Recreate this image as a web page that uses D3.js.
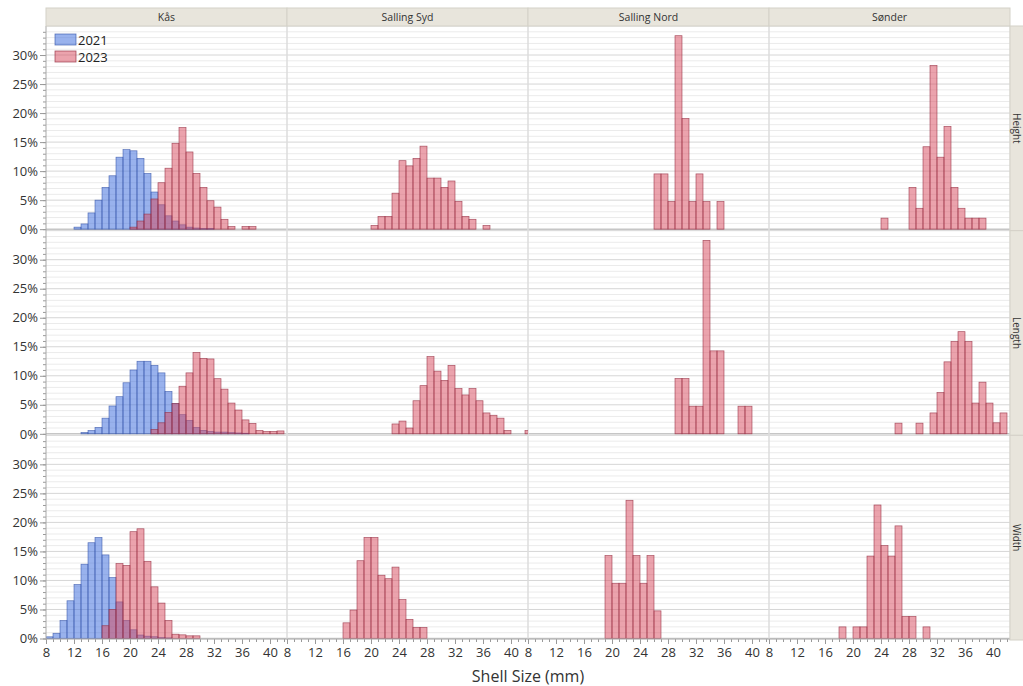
<!DOCTYPE html>
<html><head><meta charset="utf-8">
<script src="https://cdn.jsdelivr.net/npm/d3@7"></script>
<style>
body{margin:0;background:#fff;}
svg{display:block;font-family:"Open Sans","Noto Sans",sans-serif;}
</style>
</head><body>
<svg id="chart" width="1023" height="686"></svg>
<script>
// ---------------- data ----------------
const sites = ["Kås", "Salling Syd", "Salling Nord", "Sønder"];
const measures = ["Height", "Length", "Width"];
const years = ["2021", "2023"];
const xTickValues = [8, 12, 16, 20, 24, 28, 32, 36, 40];
const yTickValues = [0, 5, 10, 15, 20, 25, 30];
const xTitle = "Shell Size (mm)";

// each entry: [bin start (mm, 1-mm bins), percent of shells]
const kasHeight2021 = [[12,0.35],[13,0.9],[14,2.8],[15,5.0],[16,7.2],[17,9.2],[18,12.4],[19,13.7],[20,13.5],[21,12.2],[22,9.6],[23,6.4],[24,4.2],[25,2.3],[26,1.4],[27,0.75],[28,0.35],[29,0.2],[30,0.1],[31,0.1]];
const kasHeight2023 = [[20,0.35],[21,1.4],[22,2.6],[23,5.2],[24,8.0],[25,10.5],[26,14.8],[27,17.5],[28,13.3],[29,9.6],[30,7.2],[31,4.9],[32,3.8],[33,1.7],[34,0.45],[36,0.45],[37,0.45]];
const kasLength2021 = [[13,0.23],[14,0.57],[15,1.1],[16,2.7],[17,4.8],[18,6.4],[19,8.8],[20,11.0],[21,12.5],[22,12.5],[23,11.8],[24,10.5],[25,7.3],[26,5.2],[27,3.3],[28,2.3],[29,1.1],[30,0.6],[31,0.4],[32,0.3],[33,0.3],[34,0.2],[35,0.15],[36,0.1]];
const kasLength2023 = [[23,0.75],[24,1.9],[25,3.7],[26,5.2],[27,8.2],[28,10.5],[29,14.0],[30,13.0],[31,12.9],[32,9.5],[33,7.7],[34,5.3],[35,4.1],[36,2.4],[37,1.8],[38,0.57],[39,0.4],[40,0.4],[41,0.5]];
const kasWidth2021 = [[8,0.29],[9,0.9],[10,3.1],[11,6.5],[12,9.3],[13,12.8],[14,16.5],[15,17.4],[16,14.4],[17,10.5],[18,6.3],[19,3.1],[20,1.5],[21,0.6],[22,0.4],[23,0.3],[24,0.15],[25,0.1]];
const kasWidth2023 = [[16,2.2],[17,5.0],[18,12.9],[19,12.6],[20,18.4],[21,18.9],[22,13.3],[23,8.9],[24,6.1],[25,3.1],[26,0.74],[27,0.63],[28,0.46],[29,0.46]];
const sydHeight2023 = [[20,0.63],[21,2.2],[22,2.2],[23,6.2],[24,11.8],[25,10.9],[26,12.2],[27,14.3],[28,8.8],[29,8.8],[30,7.2],[31,8.3],[32,4.8],[33,2.2],[34,1.7],[36,0.63]];
const sydLength2023 = [[23,1.7],[24,2.2],[25,1.0],[26,5.7],[27,8.3],[28,13.3],[29,10.8],[30,9.2],[31,11.8],[32,7.8],[33,6.7],[34,7.8],[35,5.7],[36,3.6],[37,3.2],[38,2.7],[39,0.57],[42,0.57]];
const sydWidth2023 = [[16,2.7],[17,4.9],[18,13.4],[19,17.4],[20,17.4],[21,10.9],[22,10.3],[23,12.3],[24,6.7],[25,3.3],[26,1.9],[27,1.9]];
const nordHeight2023 = [[26,9.52],[27,9.52],[28,4.76],[29,33.33],[30,19.05],[31,4.76],[32,9.52],[33,4.76],[35,4.76]];
const nordLength2023 = [[29,9.52],[30,9.52],[31,4.76],[32,4.76],[33,33.33],[34,14.29],[35,14.29],[38,4.76],[39,4.76]];
const nordWidth2023 = [[19,14.29],[20,9.52],[21,9.52],[22,23.81],[23,14.29],[24,9.52],[25,14.29],[26,4.76]];
const sonderHeight2023 = [[24,1.9],[28,7.2],[29,3.6],[30,14.2],[31,28.2],[32,12.4],[33,17.7],[34,7.2],[35,3.6],[36,1.9],[37,1.9],[38,1.9]];
const sonderLength2023 = [[26,1.84],[29,1.84],[31,3.6],[32,7.1],[33,12.4],[34,15.9],[35,17.6],[36,15.9],[37,5.3],[38,8.9],[39,5.3],[40,1.9],[41,3.6]];
const sonderWidth2023 = [[18,2.0],[20,2.0],[21,2.0],[22,14.2],[23,23.0],[24,16.0],[25,14.2],[26,19.4],[27,3.8],[28,3.8],[30,2.0]];

const series = [
  {site:"Kås", measure:"Height", year:"2021", bins:kasHeight2021},
  {site:"Kås", measure:"Length", year:"2021", bins:kasLength2021},
  {site:"Kås", measure:"Width",  year:"2021", bins:kasWidth2021},
  {site:"Kås", measure:"Height", year:"2023", bins:kasHeight2023},
  {site:"Kås", measure:"Length", year:"2023", bins:kasLength2023},
  {site:"Kås", measure:"Width",  year:"2023", bins:kasWidth2023},
  {site:"Salling Syd", measure:"Height", year:"2023", bins:sydHeight2023},
  {site:"Salling Syd", measure:"Length", year:"2023", bins:sydLength2023},
  {site:"Salling Syd", measure:"Width",  year:"2023", bins:sydWidth2023},
  {site:"Salling Nord", measure:"Height", year:"2023", bins:nordHeight2023},
  {site:"Salling Nord", measure:"Length", year:"2023", bins:nordLength2023},
  {site:"Salling Nord", measure:"Width",  year:"2023", bins:nordWidth2023},
  {site:"Sønder", measure:"Height", year:"2023", bins:sonderHeight2023},
  {site:"Sønder", measure:"Length", year:"2023", bins:sonderLength2023},
  {site:"Sønder", measure:"Width",  year:"2023", bins:sonderWidth2023}
];

// ---------------- layout & style ----------------
const plotL = 46, plotR = 1010, plotT = 26, plotB = 640, stripT = 8, rightStripW = 13;
const panelW = (plotR - plotL) / sites.length;
const rowH = (plotB - plotT) / measures.length;
const pxPerMm = 7;
const xMax = 8 + panelW / pxPerMm;
const fills = {"2021":"rgba(70,115,222,0.55)", "2023":"rgba(215,72,92,0.5)"};
const strokes = {"2021":"rgba(50,80,165,0.75)", "2023":"rgba(150,48,68,0.8)"};
const textColor = "#333";
const stripFill = "#e8e5dc";

const svg = d3.select("#chart");
svg.append("rect").attr("width",1023).attr("height",686).attr("fill","#fff");

const colScale = d3.scaleBand().domain(sites).range([plotL, plotR]);
const rowScale = d3.scaleBand().domain(measures).range([plotT, plotB]);

function xScaleFor(site){
  const x0 = colScale(site);
  return d3.scaleLinear().domain([8, xMax]).range([x0, x0 + panelW]);
}
function yScaleFor(measure){
  const t = rowScale(measure);
  return d3.scaleLinear().domain([0, 35]).range([t + rowH - 1.5, t]);
}

// defs / clip paths
const defs = svg.append("defs");
sites.forEach((s,i)=>measures.forEach((m,j)=>{
  defs.append("clipPath").attr("id",`clip-${i}-${j}`)
    .append("rect").attr("x",colScale(s)).attr("y",rowScale(m))
    .attr("width",panelW).attr("height",rowH);
}));

// gridlines
const gGrid = svg.append("g");
measures.forEach(m=>{
  const ys = yScaleFor(m);
  const minor = d3.range(0, 36, 1).filter(v=>v%5!==0);
  gGrid.selectAll(null).data(minor).join("line")
    .attr("x1",plotL).attr("x2",plotR)
    .attr("y1",d=>ys(d)).attr("y2",d=>ys(d))
    .attr("stroke","#ebebeb").attr("stroke-width",1);
  gGrid.selectAll(null).data(yTickValues.concat([35])).join("line")
    .attr("x1",plotL).attr("x2",plotR)
    .attr("y1",d=>ys(d)).attr("y2",d=>ys(d))
    .attr("stroke",d=>d===0?"#c6c6c6":"#d6d6d6").attr("stroke-width",d=>d===0?1.5:1);
});
// panel separators
sites.slice(1).forEach(s=>{
  gGrid.append("line").attr("x1",colScale(s)).attr("x2",colScale(s))
    .attr("y1",plotT).attr("y2",plotB).attr("stroke","#dcdcdc").attr("stroke-width",1.5);
});
gGrid.append("line").attr("x1",plotR).attr("x2",plotR)
  .attr("y1",plotT).attr("y2",plotB).attr("stroke","#dcdcdc").attr("stroke-width",1);

// bars
const gBars = svg.append("g");
years.forEach(yr=>{
  series.filter(d=>d.year===yr).forEach(sr=>{
    const xs = xScaleFor(sr.site), ys = yScaleFor(sr.measure);
    const ci = sites.indexOf(sr.site), ri = measures.indexOf(sr.measure);
    gBars.append("g").attr("clip-path",`url(#clip-${ci}-${ri})`)
      .selectAll("rect").data(sr.bins).join("rect")
      .attr("x",d=>xs(d[0])).attr("width",d=>xs(d[0]+1)-xs(d[0]))
      .attr("y",d=>ys(d[1])).attr("height",d=>ys(0)-ys(d[1]))
      .attr("fill",fills[yr]).attr("stroke",strokes[yr]).attr("stroke-width",0.7);
  });
});

// y axes
measures.forEach(m=>{
  const ys = yScaleFor(m);
  const gMinor = svg.append("g").attr("transform",`translate(${plotL},0)`)
    .call(d3.axisLeft(ys).tickValues(d3.range(0,35,1)).tickSize(3).tickFormat(""));
  gMinor.select(".domain").remove();
  gMinor.selectAll("line").attr("stroke","#999");
  const g = svg.append("g").attr("transform",`translate(${plotL},0)`)
    .call(d3.axisLeft(ys).tickValues(yTickValues).tickSize(6).tickPadding(2).tickFormat(d=>d+"%"));
  g.select(".domain").remove();
  g.selectAll("line").attr("stroke","#999");
  g.selectAll("text").attr("fill",textColor).style("font-size","13px")
    .style("font-family","'Open Sans','Noto Sans',sans-serif");
});
svg.append("line").attr("x1",plotL).attr("x2",plotL).attr("y1",plotT).attr("y2",plotB)
  .attr("stroke","#a8a8a8").attr("stroke-width",1);

// x axes
sites.forEach(s=>{
  const xs = xScaleFor(s);
  const gMinor = svg.append("g").attr("transform",`translate(0,${plotB-1})`)
    .call(d3.axisBottom(xs).tickValues(d3.range(8,43,1)).tickSize(3).tickFormat(""));
  gMinor.select(".domain").remove();
  gMinor.selectAll("line").attr("stroke","#999");
  const g = svg.append("g").attr("transform",`translate(0,${plotB-1})`)
    .call(d3.axisBottom(xs).tickValues(xTickValues).tickSize(5).tickPadding(4));
  g.select(".domain").remove();
  g.selectAll("line").attr("stroke","#999");
  g.selectAll("text").attr("fill",textColor).style("font-size","13px")
    .style("font-family","'Open Sans','Noto Sans',sans-serif");
});
svg.append("line").attr("x1",plotL).attr("x2",plotR).attr("y1",plotB-1).attr("y2",plotB-1)
  .attr("stroke","#b0b0b0").attr("stroke-width",1);

// x title
svg.append("text").attr("x",(plotL+plotR)/2).attr("y",682)
  .attr("text-anchor","middle").attr("fill",textColor)
  .style("font-size","16px").text(xTitle);

// top strips
const gStrip = svg.append("g");
gStrip.selectAll("rect").data(sites).join("rect")
  .attr("x",d=>colScale(d)).attr("y",stripT).attr("width",panelW).attr("height",plotT-stripT)
  .attr("fill",stripFill).attr("stroke","#d4d1c8").attr("stroke-width",1);
gStrip.selectAll("text").data(sites).join("text")
  .attr("x",d=>colScale(d)+panelW/2).attr("y",stripT+(plotT-stripT)/2+4)
  .attr("text-anchor","middle").attr("fill",textColor).style("font-size","10.5px")
  .text(d=>d);

// right strips
const gR = svg.append("g");
gR.selectAll("rect").data(measures).join("rect")
  .attr("x",plotR).attr("y",d=>rowScale(d)).attr("width",rightStripW+2).attr("height",rowH)
  .attr("fill",stripFill).attr("stroke","#d4d1c8").attr("stroke-width",1);
gR.selectAll("text").data(measures).join("text")
  .attr("transform",d=>`translate(${plotR+3},${rowScale(d)+rowH/2}) rotate(90)`)
  .attr("text-anchor","middle").attr("fill",textColor).style("font-size","10px")
  .text(d=>d);

// legend
const gLeg = svg.append("g").attr("transform",`translate(${plotL+9},${plotT+8})`);
years.forEach((yr,i)=>{
  gLeg.append("rect").attr("x",0).attr("y",i*17).attr("width",21).attr("height",11)
    .attr("fill",fills[yr]).attr("stroke",strokes[yr]).attr("stroke-width",0.8);
  gLeg.append("text").attr("x",23).attr("y",i*17+10.5).attr("fill","#222")
    .style("font-size","13px").text(yr);
});
</script>
</body></html>
